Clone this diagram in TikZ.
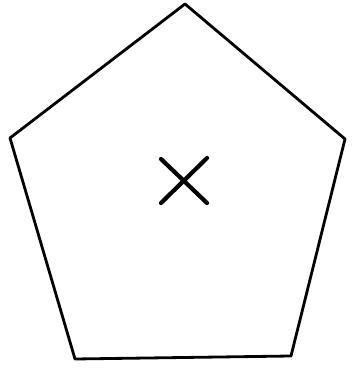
\documentclass[tikz,border=0pt]{standalone}
\usepackage{tikz}

\begin{document}
\begin{tikzpicture}[x=1pt,y=-1pt,line width=2.8pt,line join=round]
  \useasboundingbox (0,0) rectangle (353,374);
  % corners of the pentagon
  \coordinate (top) at (185,4);
  \coordinate (right) at (345,139);
  \coordinate (lowright) at (291,356);
  \coordinate (lowleft) at (75,359);
  \coordinate (left) at (10,138);
  \draw (top) -- (right) -- (lowright) -- (lowleft) -- (left) -- cycle;
  % cross in the middle
  \coordinate (c1) at (161,159);
  \coordinate (c2) at (207,203);
  \coordinate (c3) at (207,158);
  \coordinate (c4) at (161,203);
  \draw[line width=4.2pt,line cap=round] (c1) -- (c2);
  \draw[line width=4.2pt,line cap=round] (c3) -- (c4);
\end{tikzpicture}
\end{document}
